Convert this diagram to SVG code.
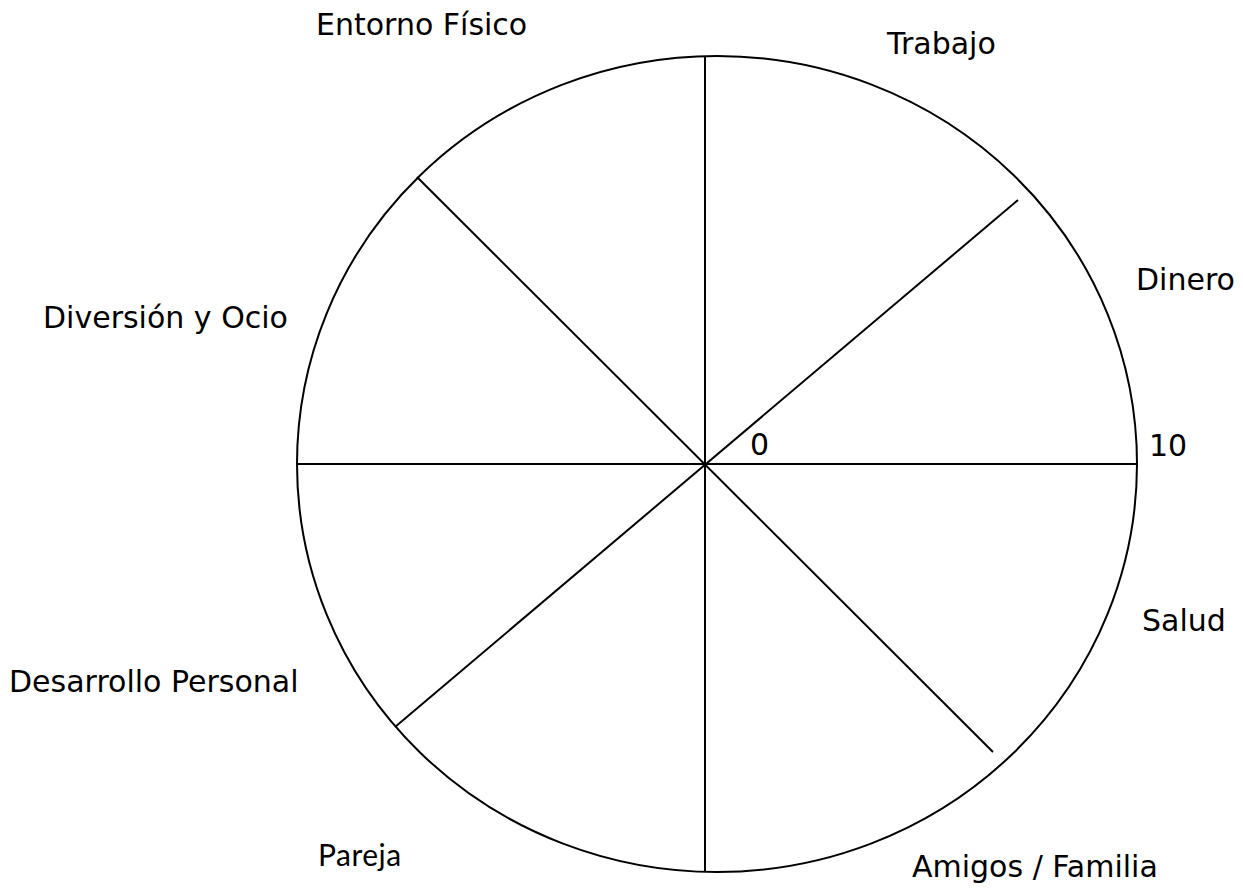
<svg xmlns="http://www.w3.org/2000/svg" width="1243" height="893" viewBox="0 0 1243 893">
<style>
.l{fill:#000;font-family:"DejaVu Sans",Verdana,sans-serif;font-size:30px}
.p{fill:#000;font-family:Lato,"Open Sans",sans-serif;font-size:30px;letter-spacing:0.5px}
.s{stroke:#000;stroke-width:2;fill:none}
</style>
<rect width="1243" height="893" fill="#fff"/>
<g id="wheel">
<ellipse class="s" cx="717" cy="464" rx="420" ry="408"/>
</g>
<g id="connectors">
<line class="s" x1="297" y1="464" x2="1137" y2="464"/>
<line class="s" x1="705" y1="57" x2="705" y2="872"/>
<line class="s" x1="417" y1="177" x2="993" y2="752"/>
<line class="s" x1="1018" y1="200" x2="395" y2="727"/>
</g>
<g id="labels">
<text class="l" x="316" y="35">Entorno Físico</text>
<text class="l" x="887" y="54">Trabajo</text>
<text class="l" x="1136" y="290">Dinero</text>
<text class="l" x="43" y="328">Diversión y Ocio</text>
<text class="l" x="750" y="455">0</text>
<text class="l" x="1149" y="456">10</text>
<text class="l" x="1142" y="631">Salud</text>
<text class="l" x="9" y="692">Desarrollo Personal</text>
<text class="p" x="318" y="866">Pareja</text>
<text class="l" x="912" y="877">Amigos / Familia</text>
</g>
</svg>
